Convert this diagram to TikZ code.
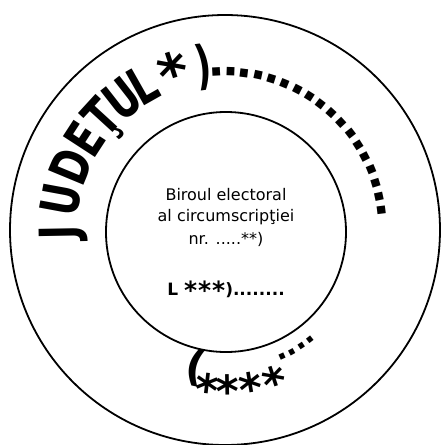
\documentclass[tikz,border=0pt]{standalone}
\usepackage{fontspec}
\setmainfont{DejaVu Sans}
\begin{document}
\begin{tikzpicture}[x=1pt,y=1pt,
  ring/.style={circle, draw, line width=1.8pt, inner sep=0pt},
  innertext/.style={font=\fontsize{16}{20}\selectfont, anchor=base, inner sep=0pt},
  arcletter/.style={font=\fontsize{42}{42}\selectfont\bfseries, anchor=base, inner sep=0pt},
  bigdot/.style={font=\fontsize{44}{44}\selectfont\bfseries, anchor=base, inner sep=0pt},
  smalldot/.style={font=\fontsize{30}{30}\selectfont\bfseries, anchor=base, inner sep=0pt},
  bottomsym/.style={font=\fontsize{44}{44}\selectfont\bfseries, anchor=base, inner sep=0pt},
]
\useasboundingbox (-225,-215) rectangle (216,230);
\node[ring, minimum size=430pt] (outer) at (0,0) {};
\node[ring, minimum size=240pt] (inner) at (1,-2) {};
% inner texts
\node[innertext] (l1) at (1,30) {Biroul electoral};
\node[innertext] (l2) at (1,8.3) {al circumscripţiei};
\node[innertext] (l3) at (1,-14) {nr. .....**)};
\node[innertext, font=\fontsize{17}{20}\selectfont\bfseries] (l4) at (1,-65)
  {L \raisebox{-4pt}{\fontsize{25}{25}\selectfont*\kern1pt*\kern1pt*})........};
% arched title
\foreach \ch/\a [count=\i] in {J/181, U/169.5, D/157.5, E/147, Ţ/137.5, U/128, L/119.5}
  \node[arcletter, rotate=\a-90] (j\i) at (\a:148) {\scalebox{0.92}[1.25]{\ch}};
\node[arcletter, rotate=18] (jstar) at (108:144) {\scalebox{1.35}{*}};
\node[arcletter, rotate=7.5] (jpar) at (97.5:148) {\scalebox{0.85}[1.25]{)}};
% top dots
\foreach \i [evaluate=\i as \a using 93-5.05*\i] in {0,...,17}
  \node[bigdot, rotate=\a-90] (td\i) at (\a:154) {.};
% bottom group
\node[font=\fontsize{42}{42}\selectfont\bfseries, inner sep=0pt, rotate=-12] (bp) at (-102:141) {(};
\foreach \a [count=\i] in {-96.4,-88.9,-80.5,-71.9}
  \node[bottomsym, rotate=\a+90] (bs\i) at (\a:177) {*};
\foreach \a [count=\i] in {-65.5,-61.3,-56.7,-52}
  \node[smalldot, rotate=\a+90] (bd\i) at (\a:142) {.};
\end{tikzpicture}
\end{document}
